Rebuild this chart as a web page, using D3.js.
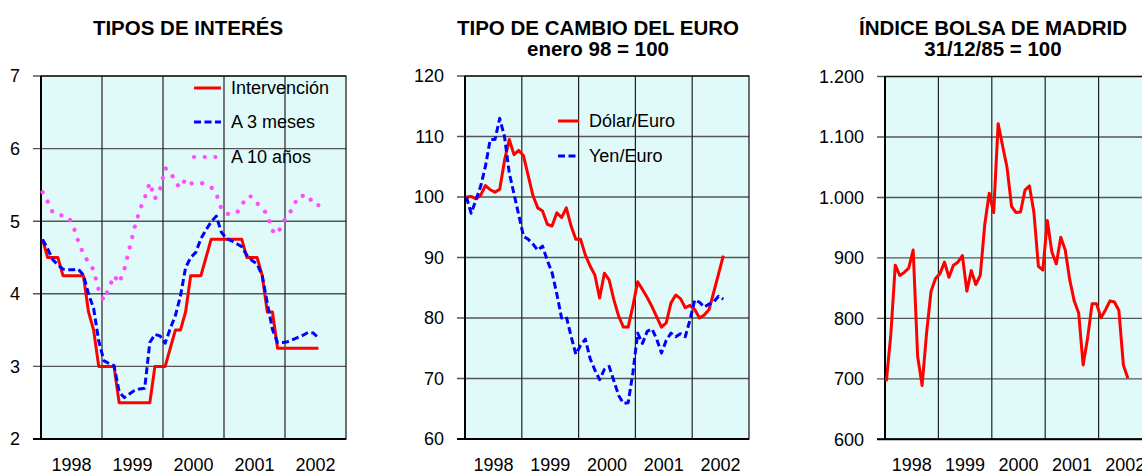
<!DOCTYPE html>
<html>
<head>
<meta charset="utf-8">
<script src="https://cdn.jsdelivr.net/npm/d3@7"></script>
<style>
body{margin:0;background:#fff}
text{font-family:Arial,"Liberation Sans",sans-serif;fill:#000}
</style>
</head>
<body>
<svg id="chart" width="1142" height="474"></svg>
<script>
// monthly data, jan 1998 .. jul 2002
var years=["1998","1999","2000","2001","2002"];
var intervencion=[4.75,4.5,4.5,4.5,4.25,4.25,4.25,4.25,4.25,3.75,3.5,3,3,3,3,2.5,2.5,2.5,2.5,2.5,2.5,2.5,3,3,3,3.25,3.5,3.5,3.75,4.25,4.25,4.25,4.5,4.75,4.75,4.75,4.75,4.75,4.75,4.75,4.5,4.5,4.5,4.25,3.75,3.75,3.25,3.25,3.25,3.25,3.25,3.25,3.25,3.25,3.25];
var tresMeses=[4.75,4.62,4.47,4.40,4.34,4.33,4.33,4.34,4.26,4.00,3.80,3.35,3.08,3.04,3.01,2.65,2.57,2.62,2.67,2.69,2.70,3.33,3.44,3.42,3.32,3.52,3.70,3.97,4.36,4.50,4.57,4.76,4.88,4.99,5.07,4.85,4.76,4.73,4.69,4.65,4.53,4.46,4.41,4.25,3.87,3.51,3.33,3.33,3.34,3.37,3.40,3.43,3.47,3.46,3.39];
var diezAnos=[5.40,5.27,5.12,5.08,5.08,5.06,4.94,4.72,4.55,4.43,4.33,4.05,3.91,4.08,4.25,4.15,4.33,4.62,4.91,5.15,5.32,5.53,5.31,5.44,5.73,5.69,5.53,5.46,5.58,5.52,5.52,5.53,5.50,5.47,5.38,5.17,5.10,5.10,5.11,5.22,5.34,5.34,5.25,5.17,5.10,4.87,4.82,4.98,5.08,5.18,5.34,5.35,5.36,5.23,5.22];
var dolarEuro=[100.0,100.1,99.7,100.3,101.9,101.2,100.8,101.3,106.0,109.5,107.0,107.7,106.8,103.5,100.2,98.2,97.7,95.5,95.2,97.4,96.6,98.2,95.2,93.0,93.0,90.4,88.6,87.1,83.3,87.4,86.3,83.0,80.3,78.5,78.5,82.0,86.0,84.7,83.4,81.9,80.2,78.5,79.2,82.5,83.8,83.2,81.7,82.1,81.4,80.0,80.5,81.4,84.3,87.3,90.3];
var yenEuro=[100.0,97.3,99.5,101.8,105.1,109.5,109.5,113.0,110.0,104.0,100.5,97.0,93.5,93.0,92.2,91.2,91.9,89.5,87.5,84.0,80.0,80.2,77.0,74.0,75.5,76.5,73.3,71.4,69.8,71.5,72.0,69.6,67.2,65.9,66.0,71.0,77.5,75.8,77.8,78.2,76.5,74.2,76.3,77.5,76.9,77.4,76.9,79.7,83.0,82.6,81.8,82.3,82.7,83.6,83.1];
var bolsa=[696,773,888,871,876,883,913,737,689,776,845,866,874,893,868,888,893,904,845,879,856,871,955,1007,975,1122,1085,1049,985,975,976,1012,1019,975,886,880,962,910,890,934,913,864,829,809,723,767,824,824,801,814,829,827,813,723,701];

var ticksInt=[2,3,4,5,6,7];
var ticksCambio=[60,70,80,90,100,110,120];
var ticksBolsa=[600,700,800,900,1000,1100,1200];

var esLocale=d3.formatLocale({decimal:",",thousands:".",grouping:[3],currency:["","€"]});
var fmtMiles=esLocale.format(",d");

var svg=d3.select("#chart");
svg.append("rect").attr("width",1142).attr("height",474).attr("fill","#fff");

var RED="#ff0000", BLUE="#0000ff", PINK="#ff4cff";

function drawPanel(p){
	var g=svg.append("g");
	var x=d3.scaleLinear().domain([-0.3,59.4]).range([p.x0,p.x1]);
	var yb=d3.scaleBand().domain(years).range([p.x0,p.x1]);
	var y=d3.scaleLinear().domain(d3.extent(p.ticks)).range([p.y1,p.y0]);

	g.append("rect")
		.attr("x",p.x0).attr("y",p.y0)
		.attr("width",p.x1-p.x0).attr("height",p.y1-p.y0)
		.attr("fill","#e0fafa");

	// horizontal grid + outward ticks
	g.selectAll(".hg").data(p.ticks).enter().append("line")
		.attr("x1",p.x0-8).attr("x2",p.x1)
		.attr("y1",function(d){return y(d);}).attr("y2",function(d){return y(d);})
		.attr("stroke","#555").attr("stroke-width",1.4);
	// vertical grid at year boundaries
	g.selectAll(".vg").data(years.slice(1)).enter().append("line")
		.attr("x1",function(d){return yb(d);}).attr("x2",function(d){return yb(d);})
		.attr("y1",p.y0).attr("y2",p.y1)
		.attr("stroke","#222").attr("stroke-width",1.2);

	// frame
	g.append("rect")
		.attr("x",p.x0).attr("y",p.y0)
		.attr("width",p.x1-p.x0).attr("height",p.y1-p.y0)
		.attr("fill","none").attr("stroke","#111").attr("stroke-width",1.2);
	g.append("line").attr("x1",p.x0).attr("x2",p.x0).attr("y1",p.y0).attr("y2",p.y1)
		.attr("stroke","#000").attr("stroke-width",2);
	g.append("line").attr("x1",p.x0-8).attr("x2",p.x1).attr("y1",p.y1).attr("y2",p.y1)
		.attr("stroke","#000").attr("stroke-width",2);

	// tick labels
	g.selectAll(".yl").data(p.ticks).enter().append("text")
		.attr("x",p.x0-21).attr("y",function(d){return y(d);})
		.attr("dy","0.36em").attr("text-anchor","end")
		.style("font-size","18px")
		.text(p.fmt);
	g.selectAll(".xl").data(years).enter().append("text")
		.attr("x",function(d){return yb(d)+yb.bandwidth()/2;}).attr("y",p.y1+32)
		.attr("text-anchor","middle").style("font-size","18px")
		.text(function(d){return d;});

	// series
	p.series.forEach(function(s){
		var line=d3.line()
			.x(function(d,i){return x(i);})
			.y(function(d){return y(d);});
		g.append("path").datum(s.values)
			.attr("d",line)
			.attr("fill","none")
			.attr("stroke",s.color)
			.attr("stroke-width",s.width||3)
			.attr("stroke-dasharray",s.dash||null)
			.attr("stroke-linecap",s.cap||"butt")
			.attr("stroke-linejoin","round");
	});

	// legend
	if(p.legend){
		p.series.forEach(function(s,k){
			var ly=p.legend.ys[k];
			g.append("line")
				.attr("x1",p.legend.x).attr("x2",p.legend.x+p.legend.len)
				.attr("y1",ly).attr("y2",ly)
				.attr("stroke",s.color).attr("stroke-width",s.width||3)
				.attr("stroke-dasharray",s.dash||null)
				.attr("stroke-linecap",s.cap||"butt");
			g.append("text")
				.attr("x",p.legend.x+p.legend.len+10).attr("y",ly)
				.attr("dy","0.36em").style("font-size","18px")
				.text(s.name);
		});
	}

	// titles
	p.titles.forEach(function(t,k){
		svg.append("text")
			.attr("x",p.tx).attr("y",35+k*21)
			.attr("text-anchor","middle")
			.style("font-size","20.5px").style("font-weight","bold")
			.text(t);
	});
}

drawPanel({
	x0:41,x1:346,y0:76,y1:439,ticks:ticksInt,
	fmt:function(d){return d;},
	tx:188,titles:["TIPOS DE INTERÉS"],
	series:[
		{name:"Intervención",values:intervencion,color:RED},
		{name:"A 3 meses",values:tresMeses,color:BLUE,dash:"7,3.5"},
		{name:"A 10 años",values:diezAnos,color:PINK,width:4.2,dash:"0.1,10.6",cap:"round"}
	],
	legend:{x:194,len:27,ys:[88,122,157]}
});
drawPanel({
	x0:465,x1:749,y0:76,y1:439,ticks:ticksCambio,
	fmt:function(d){return d;},
	tx:598,titles:["TIPO DE CAMBIO DEL EURO","enero 98 = 100"],
	series:[
		{name:"Dólar/Euro",values:dolarEuro,color:RED},
		{name:"Yen/Euro",values:yenEuro,color:BLUE,dash:"7,3.5"}
	],
	legend:{x:558,len:21,ys:[121,156]}
});
drawPanel({
	x0:885,x1:1152,y0:76.5,y1:439.3,ticks:ticksBolsa,
	fmt:fmtMiles,
	tx:993,titles:["ÍNDICE BOLSA DE MADRID","31/12/85 = 100"],
	series:[
		{name:"Índice",values:bolsa,color:RED}
	]
});
</script>
</body>
</html>
